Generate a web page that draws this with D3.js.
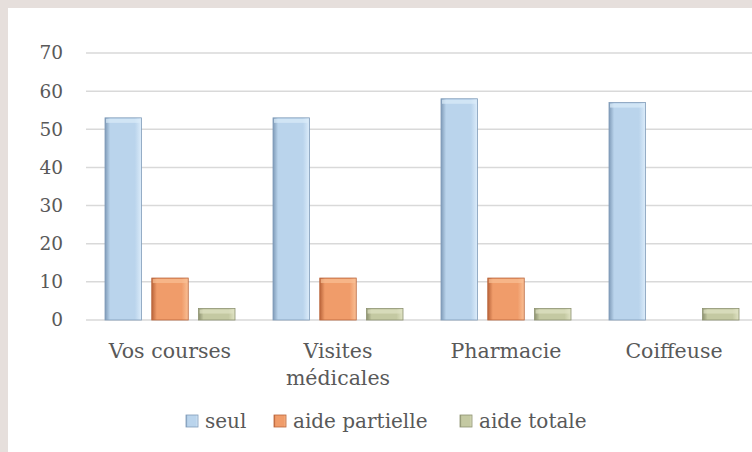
<!DOCTYPE html>
<html lang="fr">
<head>
<meta charset="UTF-8">
<title>Aide pour les sorties</title>
<script src="https://cdn.jsdelivr.net/npm/d3@7"></script>
<style>
    body { margin: 0; background: #e6dfdc; }
    svg { display: block; }
</style>
</head>
<body>
<div id="chart"></div>
<script>
    // data
    const categories = ["Vos courses", "Visites médicales", "Pharmacie", "Coiffeuse"];
    const seriesNames = ["seul", "aide partielle", "aide totale"];
    const seul = [53, 53, 58, 57];
    const aidePartielle = [11, 11, 11, null];
    const aideTotale = [3, 3, 3, 3];
    const yTicks = [0, 10, 20, 30, 40, 50, 60, 70];

    const FONT = "'DejaVu Serif', serif";
    const TXT = "#595959";

    const W = 752, H = 452;
    const margin = { top: 53, right: -6, bottom: 132, left: 86 };
    const width = W - margin.left - margin.right,
        height = H - margin.top - margin.bottom;

    const svg = d3.select("#chart").append("svg")
        .attr("width", W).attr("height", H);

    // white chart area, grey frame only on top/left
    svg.append("rect").attr("x", 8).attr("y", 8)
        .attr("width", W - 8).attr("height", H - 8).attr("fill", "#fff");

    // bevel-ish gradients: dark edge, body, light edge
    const colors = {
        "seul": ["#7f9bb8", "#bad4ec", "#dcecfa"],
        "aide partielle": ["#b9643a", "#f09c6a", "#f9c096"],
        "aide totale": ["#8d9270", "#c4c9a2", "#e0e3c4"]
    };
    const defs = svg.append("defs");
    seriesNames.forEach((s, i) => {
        const g = defs.append("linearGradient").attr("id", "g" + i)
            .attr("x1", 0).attr("x2", 1).attr("y1", 0).attr("y2", 0);
        g.append("stop").attr("offset", "0%").attr("stop-color", colors[s][0]);
        g.append("stop").attr("offset", "14%").attr("stop-color", colors[s][1]);
        g.append("stop").attr("offset", "82%").attr("stop-color", colors[s][1]);
        g.append("stop").attr("offset", "100%").attr("stop-color", colors[s][2]);
    });

    const g = svg.append("g").attr("transform", `translate(${margin.left},${margin.top})`);

    const x0 = d3.scaleBand().domain(categories).range([0, width]).padding(0);
    const x1 = d3.scaleBand().domain(seriesNames)
        .range([19, x0.bandwidth() - 19]).paddingInner(0.22);
    const y = d3.scaleLinear().domain([0, 70]).range([height, 0]);

    // gridlines
    g.append("g").selectAll("line").data(yTicks).join("line")
        .attr("x1", 0).attr("x2", width)
        .attr("y1", d => y(d)).attr("y2", d => y(d))
        .attr("stroke", "#d9d9d9").attr("stroke-width", 1.5);

    // y axis labels
    const yAxis = g.append("g").call(d3.axisLeft(y).tickValues(yTicks).tickSize(0).tickPadding(23));
    yAxis.select(".domain").remove();
    yAxis.attr("font-family", null).attr("font-size", null);
    yAxis.selectAll("text")
        .style("font-family", FONT)
        .style("font-size", "18.5px").style("fill", TXT);

    const rows = categories.map((c, i) => ({
        cat: c,
        vals: [seul[i], aidePartielle[i], aideTotale[i]]
    }));

    const groups = g.selectAll(".grp").data(rows).join("g")
        .attr("class", "grp")
        .attr("transform", d => `translate(${x0(d.cat)},0)`);

    const bars = groups.selectAll(".bar")
        .data(d => d.vals.map((v, i) => ({ s: seriesNames[i], i: i, v: v })).filter(d => d.v != null))
        .join("g").attr("class", "bar");

    bars.append("rect")
        .attr("x", d => x1(d.s))
        .attr("y", d => y(d.v))
        .attr("width", x1.bandwidth())
        .attr("height", d => y(0) - y(d.v))
        .attr("fill", d => `url(#g${d.i})`)
        .attr("stroke", d => colors[d.s][0]).attr("stroke-width", 0.8);

    // top bevel highlight
    bars.append("rect")
        .attr("x", d => x1(d.s) + 1)
        .attr("y", d => y(d.v) + 1)
        .attr("width", x1.bandwidth() - 2)
        .attr("height", d => Math.min(4, y(0) - y(d.v) - 2))
        .attr("fill", d => colors[d.s][2]).attr("opacity", 0.7);

    // category labels
    const catLabels = g.append("g").selectAll("text").data(categories).join("text")
        .attr("text-anchor", "middle")
        .attr("x", d => x0(d) + x0.bandwidth() / 2)
        .attr("y", height + 38)
        .style("font-family", FONT).style("fill", TXT)
        .style("font-size", "20.5px");
    catLabels.each(function (d) {
        const t = d3.select(this);
        const words = d === "Visites médicales" ? ["Visites", "médicales"] : [d];
        words.forEach((w, k) => {
            t.append("tspan").attr("x", x0(d) + x0.bandwidth() / 2)
                .attr("dy", k === 0 ? 0 : 27).text(w);
        });
    });

    // legend
    const legendX = [186, 274, 460];
    const legend = svg.append("g").selectAll("g").data(seriesNames).join("g")
        .attr("transform", (d, i) => `translate(${legendX[i]},415)`);
    legend.append("rect").attr("width", 12).attr("height", 12)
        .attr("fill", (d, i) => `url(#g${i})`)
        .attr("stroke", d => colors[d][0]).attr("stroke-width", 0.8);
    legend.append("text").attr("x", 19).attr("y", 13)
        .style("font-family", FONT).style("fill", TXT)
        .style("font-size", "20px").text(d => d);
</script>
</body>
</html>
